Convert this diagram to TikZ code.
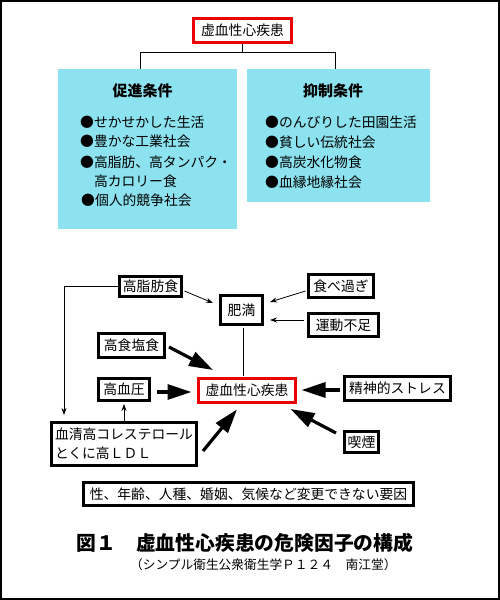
\documentclass[tikz,border=0pt]{standalone}
\usepackage{fontspec}
\setmainfont{Noto Sans CJK JP}
\usetikzlibrary{arrows.meta,calc}
\definecolor{cyanbg}{RGB}{140,226,238}
\definecolor{redbd}{RGB}{235,0,0}
\begin{document}
\begin{tikzpicture}[x=1pt,y=-1pt,
  box/.style={draw=black,line width=3pt,inner sep=0pt,font=\fontsize{13.8}{16}\selectfont},
  redbox/.style={box,draw=redbd},
  cbox/.style={fill=cyanbg,inner sep=0pt},
  item/.style={anchor=west,inner sep=0pt,font=\fontsize{13.8}{16}\selectfont},
  ctitle/.style={inner sep=0pt,font=\fontsize{15}{17}\selectfont\bfseries},
  conn/.style={line width=0.8pt},
  thinarr/.style={line width=0.8pt,-{Stealth[length=7pt,width=5pt]}},
  bigarr/.style={line width=3.2pt,-{Triangle[length=24pt,width=15pt]}}]
\useasboundingbox (0,0) rectangle (500,600);
\draw[line width=2pt] (1,1) rectangle (499,599);

% top part
\node[redbox,minimum width=98pt,minimum height=24pt] (top) at (242.5,30.5) {虚血性心疾患};
\node[cbox,minimum width=179pt,minimum height=160pt] (lc) at (147.5,149) {};
\node[cbox,minimum width=183pt,minimum height=133pt] (rc) at (338.5,135.5) {};
\coordinate (jy) at (0,52);
\coordinate (lcT) at (140,69);
\coordinate (rcT) at (335,69);
\draw[conn] (top.south) -- (top.south |- jy) -| (lcT);
\draw[conn] (top.south |- jy) -| (rcT);

\node[ctitle] (lt) at (142.5,91) {促進条件};
\node[item] (l1) at (80,122) {●せかせかした生活};
\node[item] (l2) at (80,141) {●豊かな工業社会};
\node[item] (l3) at (80,162) {●高脂肪、高タンパク・};
\node[item] (l4) at (93.8,181) {高カロリー食};
\node[item] (l5) at (81,200) {●個人的競争社会};

\node[ctitle] (rt) at (333,91) {抑制条件};
\node[item] (r1) at (265,122) {●のんびりした田園生活};
\node[item] (r2) at (265,142) {●貧しい伝統社会};
\node[item] (r3) at (265,162) {●高炭水化物食};
\node[item] (r4) at (265,182) {●血縁地縁社会};

% lower part
\node[box,minimum width=62pt,minimum height=20pt] (kshi) at (150.5,286.5) {高脂肪食};
\node[box,minimum width=42pt,minimum height=29pt] (himan) at (241.5,310) {肥満};
\node[box,minimum width=65pt,minimum height=23pt] (tabe) at (341,286) {食べ過ぎ};
\node[box,minimum width=70pt,minimum height=23pt] (undo) at (343.5,325) {運動不足};
\node[box,minimum width=66pt,minimum height=24pt] (ensh) at (131.5,345.5) {高食塩食};
\node[box,minimum width=51pt,minimum height=22pt] (ketsu) at (124,389.5) {高血圧};
\node[redbox,minimum width=97pt,minimum height=24pt] (main) at (247,390.5) {虚血性心疾患};
\node[box,minimum width=106pt,minimum height=24pt] (stress) at (397.5,388.5) {精神的ストレス};
\node[box,minimum width=34pt,minimum height=21pt] (kitsu) at (361.5,442) {喫煙};
\node[box,minimum width=145pt,minimum height=43pt,align=left,text width=138pt,
      font=\fontsize{13.8}{19}\selectfont] (chol) at (124,444) {血清高コレステロール\\とくに高ＬＤＬ};
\node[box,minimum width=330pt,minimum height=23pt] (fixed) at (248.5,494) {性、年齢、人種、婚姻、気候など変更できない要因};

\node[inner sep=0pt,font=\fontsize{19.8}{22}\selectfont\bfseries] (cap) at (245,543) {図１　虚血性心疾患の危険因子の構成};
\node[inner sep=0pt,anchor=west,font=\fontsize{12.7}{15}\selectfont] (sub) at (130,565) {（シンプル衛生公衆衛生学Ｐ１２４　南江堂）};

% thin connectors
\coordinate (cholL) at (64,415);
\draw[thinarr] (kshi.west) -| (cholL);
\draw[thinarr] ($(kshi.east)+(1.5,4.5)$) -- ($(himan.west)+(-6,-7)$);
\draw[thinarr] ($(tabe.west)+(-1.5,5)$) -- ($(himan.east)+(6,-8)$);
\draw[thinarr] ($(undo.west)+(-3,-5)$) -- ($(himan.east)+(6,10)$);
\draw[conn] ($(himan.south)+(1.5,1.5)$) -- ($(main.north)+(-4,-1.5)$);
\draw[thinarr] (chol.north -| ketsu.south) -- ($(ketsu.south)+(0,2)$);

% big arrows
\draw[bigarr] ($(ensh.east)+(3,1.5)$) -- ($(main.north west)+(16,-7)$);
\draw[bigarr] ($(ketsu.east)+(5.5,2.5)$) -- ($(main.west)+(-5.5,1.5)$);
\draw[bigarr] ($(stress.west)+(-3,1.5)$) -- ($(main.east)+(4.5,-0.5)$);
\draw[bigarr] ($(kitsu.west)+(-7,-9)$) -- ($(main.south east)+(-6.5,5)$);
\draw[bigarr] ($(chol.north east)+(5,30)$) -- ($(main.south west)+(40,5.5)$);
\end{tikzpicture}
\end{document}
